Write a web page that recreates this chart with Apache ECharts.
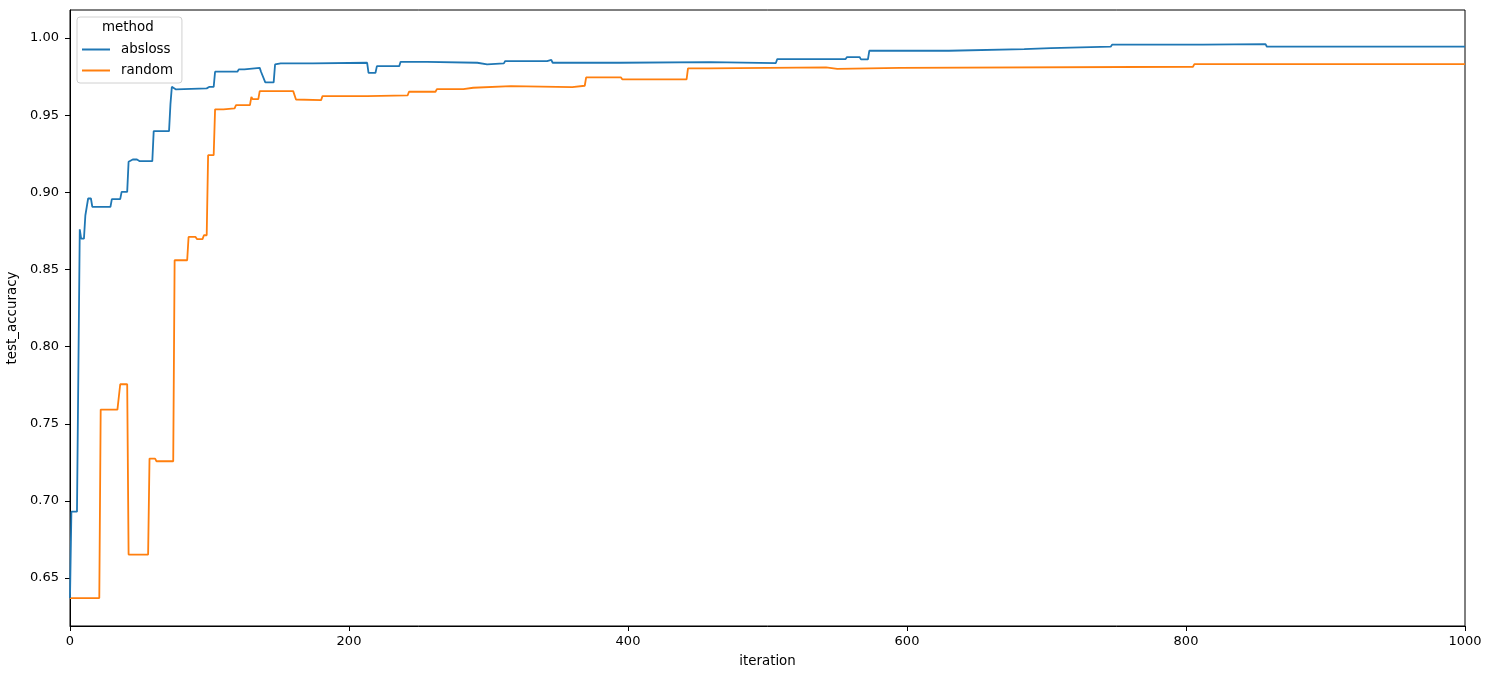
<!DOCTYPE html>
<html>
<head>
<meta charset="utf-8">
<script src="https://cdn.jsdelivr.net/npm/echarts@6/dist/echarts.min.js"></script>
<style>
html,body{margin:0;padding:0;background:#fff;}
#chart{width:1492px;height:679px;}
</style>
</head>
<body>
<div id="chart"></div>
<script>
const seriesNames = ['absloss', 'random'];
const xTicks = [0, 200, 400, 600, 800, 1000];
const yTicks = [0.65, 0.70, 0.75, 0.80, 0.85, 0.90, 0.95, 1.00];

const abslossData = [
  [0,0.637],[1,0.693],[5,0.693],[7,0.876],[8,0.870],[10,0.870],[11,0.885],[13,0.896],[15,0.896],
  [16,0.8906],[29,0.8906],[30,0.8956],[36,0.8956],[37,0.9003],[41,0.9003],[42,0.9198],[45,0.9213],
  [48,0.9213],[50,0.9202],[59,0.9202],[60,0.9397],[71,0.9397],[72,0.957],[73,0.9684],[76,0.9667],
  [98,0.9674],[100,0.9684],[103,0.9684],[104,0.9782],[120,0.9782],[121,0.9797],[125,0.9797],
  [126,0.9807],[136,0.9807],[137,0.978],[140,0.9713],[146,0.9713],[147,0.9829],[151,0.9836],
  [174,0.9836],[175,0.984],[213,0.984],[214,0.9775],[219,0.9775],[220,0.9818],[236,0.9818],
  [237,0.9846],[256,0.9846],[257,0.984],[292,0.984],[293,0.983],[299,0.983],[300,0.9836],
  [311,0.9836],[312,0.9851],[342,0.9851],[343,0.9859],[345,0.9859],[346,0.984],[394,0.984],
  [395,0.9844],[459,0.9844],[460,0.9838],[506,0.9838],[507,0.9864],[556,0.9864],[557,0.9877],
  [566,0.9877],[567,0.9862],[572,0.9862],[573,0.9918],[630,0.9918],[631,0.9929],[684,0.9929],
  [685,0.9935],[703,0.9935],[704,0.9944],[746,0.9944],[747,0.9957],[812,0.9957],[813,0.9961],
  [857,0.9961],[858,0.9944],[1000,0.9944]
];

const randomData = [
  [0,0.637],[21,0.637],[22,0.7592],[34,0.7592],[36,0.7756],[41,0.7756],[42,0.6652],[56,0.6652],
  [57,0.7274],[61,0.7274],[62,0.7257],[74,0.7257],[75,0.856],[84,0.856],[85,0.8711],[90,0.8711],
  [91,0.8697],[95,0.8697],[96,0.8722],[98,0.8722],[99,0.9241],[103,0.9241],[104,0.9538],
  [110,0.9538],[111,0.9544],[118,0.9544],[119,0.9565],[129,0.9565],[130,0.9619],[131,0.9604],
  [135,0.9604],[136,0.9656],[160,0.9656],[162,0.9602],[180,0.9598],[181,0.9624],[213,0.9624],
  [214,0.9628],[242,0.9628],[243,0.9652],[262,0.9652],[263,0.9669],[282,0.9669],[283,0.9678],
  [289,0.9678],[290,0.9689],[316,0.9689],[317,0.9682],[360,0.9682],[361,0.9691],[369,0.9691],
  [370,0.9745],[395,0.9745],[396,0.9732],[442,0.9732],[443,0.9803],[458,0.9803],[459,0.981],
  [542,0.981],[543,0.9801],[550,0.9801],[551,0.9807],[595,0.9807],[596,0.9814],[805,0.9814],
  [806,0.9831],[1000,0.9831]
];

const FONT = 'DejaVu Sans';
const FS = 13.4;
const chart = echarts.init(document.getElementById('chart'), null, {renderer: 'canvas'});
chart.setOption({
  animation: false,
  backgroundColor: '#fff',
  textStyle: {fontFamily: FONT},
  grid: {left: 70, right: 27, top: 10, bottom: 53, outerBoundsMode: 'none', containLabel: false,
         show: true, borderColor: '#000', borderWidth: 1, backgroundColor: 'transparent'},
  graphic: [{
    type: 'text', left: 102, top: 21, z: 100,
    style: {text: 'method', font: FS + 'px "DejaVu Sans"', fill: '#000'}
  }],
  legend: {
    orient: 'vertical', left: 77, top: 17,
    padding: [25, 9, 5, 5],
    icon: 'rect',
    itemWidth: 28, itemHeight: 2, itemGap: 6,
    borderColor: '#d0d0d0', borderWidth: 1, borderRadius: 3,
    backgroundColor: 'rgba(255,255,255,0.8)',
    textStyle: {fontFamily: FONT, fontSize: FS, color: '#000', padding: [0, 0, 0, 6], lineHeight: 15},
    data: seriesNames
  },
  xAxis: {
    type: 'value', min: 0, max: 1000, interval: 200,
    name: 'iteration', nameLocation: 'middle', nameGap: 29,
    nameTextStyle: {fontFamily: FONT, fontSize: FS, color: '#000'},
    axisLine: {show: true, lineStyle: {color: '#000', width: 1}},
    axisTick: {show: true, length: 5, lineStyle: {color: '#000'}},
    axisLabel: {fontFamily: FONT, fontSize: 13, color: '#000', margin: 9,
      customValues: xTicks, formatter: v => String(v)},
    splitLine: {show: false}
  },
  yAxis: {
    type: 'value', min: 0.6189, max: 1.0182,
    name: 'test_accuracy', nameLocation: 'middle', nameGap: 47,
    nameTextStyle: {fontFamily: FONT, fontSize: FS, color: '#000'},
    axisLine: {show: true, lineStyle: {color: '#000', width: 1}},
    axisTick: {show: true, length: 5, lineStyle: {color: '#000'}, customValues: yTicks},
    axisLabel: {fontFamily: FONT, fontSize: 13, color: '#000', margin: 11,
      customValues: yTicks, formatter: v => v.toFixed(2)},
    splitLine: {show: false}
  },
  series: [
    {name: seriesNames[0], type: 'line', data: abslossData, symbol: 'none', showSymbol: false,
     color: '#1f77b4', lineStyle: {width: 1.8, color: '#1f77b4'}, z: 3},
    {name: seriesNames[1], type: 'line', data: randomData, symbol: 'none', showSymbol: false,
     color: '#ff7f0e', lineStyle: {width: 1.8, color: '#ff7f0e'}, z: 2}
  ]
});
</script>
</body>
</html>
